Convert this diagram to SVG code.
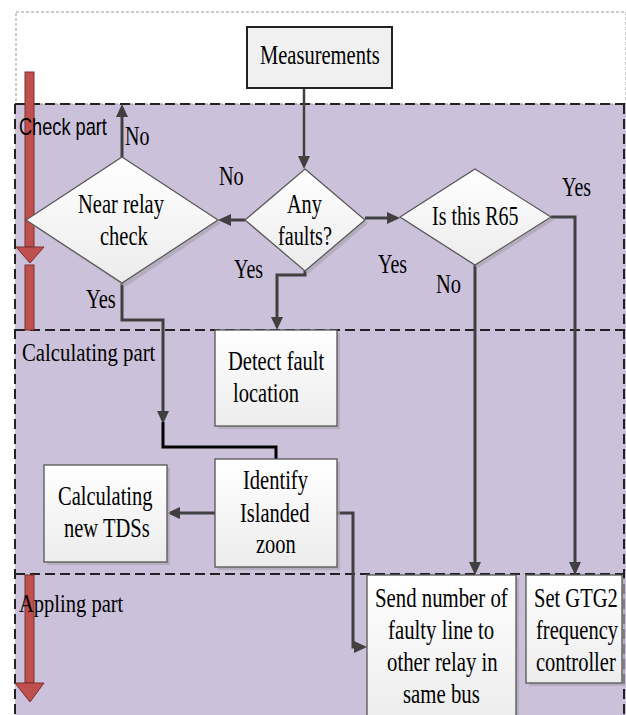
<svg xmlns="http://www.w3.org/2000/svg" width="626" height="715" viewBox="0 0 626 715">
<defs>
<linearGradient id="boxg" x1="0" y1="0" x2="0" y2="1">
<stop offset="0" stop-color="#ffffff"/>
<stop offset="1" stop-color="#ececec"/>
</linearGradient>
<marker id="ah" markerWidth="13" markerHeight="12" refX="3" refY="6" orient="auto" markerUnits="userSpaceOnUse">
<path d="M0,0 L13,6 L0,12 z" fill="#404040"/>
</marker>
</defs>
<style>
.t{font-family:"Liberation Serif","Times New Roman",serif;font-size:27px;fill:#000}
.s{font-family:"Liberation Sans",Arial,sans-serif;font-size:23px;fill:#000}
.sec{font-family:"Liberation Serif","Times New Roman",serif;font-size:26px;fill:#000}
.box{fill:url(#boxg);stroke:#555;stroke-width:1.3}
.shadow{fill:#a9a4b2;opacity:0.7}
.dia{fill:url(#boxg);stroke:#555;stroke-width:1.2}
.dash{fill:none;stroke:#222;stroke-width:2;stroke-dasharray:10 5}
.conn{fill:none;stroke:#404040;stroke-width:3;marker-end:url(#ah)}
.red{fill:#c0504d;stroke:#7a2f2c;stroke-width:1}
</style>

<g id="background">
<rect x="0" y="0" width="626" height="715" fill="#ffffff"/>
<rect x="15" y="104" width="611" height="611" fill="#ccc1da"/>
<rect x="16" y="12" width="610" height="92" fill="none" stroke="#999" stroke-width="1" stroke-dasharray="3 2"/>
<path class="dash" d="M15,104 H626 M15,330 H626 M15,574 H626 M15,104 V715 M624,104 V715"/>
</g>

<g id="section-arrows">
<rect class="red" x="25" y="72" width="9" height="175"/>
<path class="red" d="M16,247 H44 L30,263 z"/>
<rect class="red" x="25" y="265" width="9" height="65"/>
<rect class="red" x="25" y="575" width="9" height="108"/>
<path class="red" d="M15,683 H44 L30,702 z"/>
</g>

<g id="section-labels">
<text class="s" transform="translate(19,135) scale(0.79,1)">Check part</text>
<text class="sec" transform="translate(22,361) scale(0.8,1)">Calculating part</text>
<text class="sec" transform="translate(19,612) scale(0.79,1)">Appling part</text>
</g>

<g id="connectors">
<path class="conn" d="M304,88 V159" style="stroke-width:2.5"/>
<path class="conn" d="M122,157 V114"/>
<path class="conn" d="M245,220 H228"/>
<path class="conn" d="M365,218 H390"/>
<path class="conn" d="M305,271 V275 H277 V320"/>
<path class="conn" d="M475,265 V565"/>
<path class="conn" d="M551,217 H575 V565"/>
<path class="conn" d="M122,283 V320 H163 V414"/>
<path d="M163,422 V447 H276 V459" fill="none" stroke="#000" stroke-width="3"/>
<path class="conn" d="M215,513 H177"/>
<path class="conn" d="M337,513 H353 V647 H357"/>
</g>

<g id="connector-labels">
<text class="t" transform="translate(125,145) scale(0.74,1)">No</text>
<text class="t" transform="translate(219,185) scale(0.75,1)">No</text>
<text class="t" transform="translate(562,196) scale(0.74,1)">Yes</text>
<text class="t" transform="translate(234,278) scale(0.74,1)">Yes</text>
<text class="t" transform="translate(378,273) scale(0.74,1)">Yes</text>
<text class="t" transform="translate(436,293) scale(0.76,1)">No</text>
<text class="t" transform="translate(86,308) scale(0.76,1)">Yes</text>
</g>

<g id="measurements">
<rect x="247" y="27" width="145" height="61" fill="#f0f0f0" stroke="#222" stroke-width="2"/>
<text class="t" transform="translate(260,64) scale(0.76,1)">Measurements</text>
</g>

<g id="near-relay-check">
<polygon class="shadow" points="125,161 221,223 125,287 29,223"/>
<polygon class="dia" points="122,157 218,220 122,283 26,220"/>
<text class="t" transform="translate(78,213) scale(0.76,1)">Near relay</text>
<text class="t" transform="translate(100,245) scale(0.76,1)">check</text>
</g>

<g id="any-faults">
<polygon class="shadow" points="308,172 368,223 308,274 248,223"/>
<polygon class="dia" points="305,169 365,220 305,271 245,220"/>
<text class="t" transform="translate(287,213) scale(0.75,1)">Any</text>
<text class="t" transform="translate(278,245) scale(0.75,1)">faults?</text>
</g>

<g id="is-this-r65">
<polygon class="shadow" points="478,172 554,220 478,268 403,220"/>
<polygon class="dia" points="475,169 551,217 475,265 400,217"/>
<text class="t" transform="translate(432,225) scale(0.74,1)">Is this R65</text>
</g>

<g id="detect-fault-location">
<rect class="shadow" x="218" y="333" width="122" height="96"/>
<rect class="box" x="215" y="330" width="122" height="96"/>
<text class="t" transform="translate(228,370) scale(0.76,1)">Detect fault</text>
<text class="t" transform="translate(233,402) scale(0.76,1)">location</text>
</g>

<g id="identify-islanded-zoon">
<rect class="shadow" x="218" y="462" width="122" height="108"/>
<rect class="box" x="215" y="459" width="122" height="108"/>
<text class="t" transform="translate(243,489) scale(0.76,1)">Identify</text>
<text class="t" transform="translate(240,522) scale(0.76,1)">Islanded</text>
<text class="t" transform="translate(256,553) scale(0.76,1)">zoon</text>
</g>

<g id="calculating-new-tdss">
<rect class="shadow" x="47" y="468" width="123" height="97"/>
<rect class="box" x="44" y="465" width="123" height="97"/>
<text class="t" transform="translate(58,505) scale(0.76,1)">Calculating</text>
<text class="t" transform="translate(64,537) scale(0.76,1)">new TDSs</text>
</g>

<g id="send-number">
<rect class="shadow" x="370" y="578" width="149" height="150"/>
<rect class="box" x="367" y="575" width="149" height="150"/>
<text class="t" transform="translate(375,607) scale(0.77,1)">Send number of</text>
<text class="t" transform="translate(388,639) scale(0.77,1)">faulty line to</text>
<text class="t" transform="translate(387,671) scale(0.77,1)">other relay in</text>
<text class="t" transform="translate(403,703) scale(0.77,1)">same bus</text>
</g>

<g id="set-gtg2">
<rect class="shadow" x="529" y="578" width="96" height="108"/>
<rect class="box" x="526" y="575" width="96" height="108"/>
<text class="t" transform="translate(534,607) scale(0.76,1)">Set GTG2</text>
<text class="t" transform="translate(536,639) scale(0.76,1)">frequency</text>
<text class="t" transform="translate(536,671) scale(0.76,1)">controller</text>
</g>
</svg>
